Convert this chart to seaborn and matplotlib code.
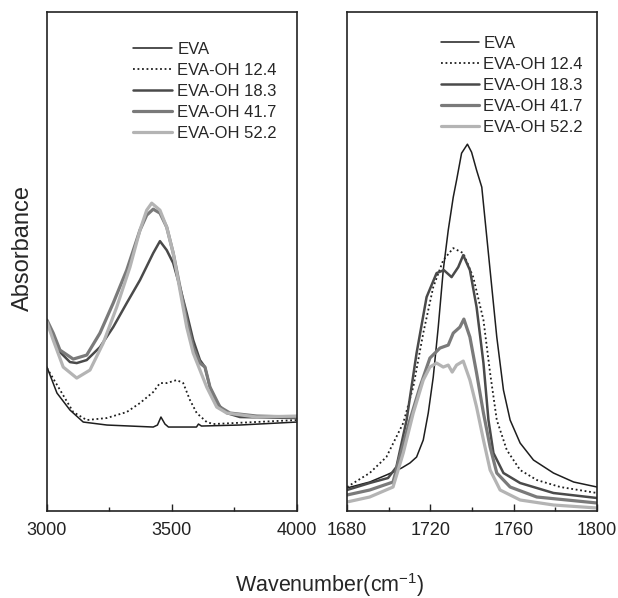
import numpy as np
import pandas as pd
import matplotlib
matplotlib.use("Agg")
import matplotlib.pyplot as plt
from matplotlib.ticker import MultipleLocator, NullLocator
import seaborn as sns

# --- data (arbitrary absorbance units) ---
labels = ["EVA", "EVA-OH 12.4", "EVA-OH 18.3", "EVA-OH 41.7", "EVA-OH 52.2"]

# O-H stretching region (3000-4000 cm-1)
oh_eva_x = [3000, 3040, 3092, 3145, 3240, 3425, 3442, 3456, 3472, 3486, 3598, 3606, 3618, 3770, 4000]
oh_eva_y = [1.44, 1.18, 1.01, 0.89, 0.86, 0.84, 0.86, 0.94, 0.87, 0.84, 0.84, 0.87, 0.85, 0.86, 0.89]

oh_124_x = [3000, 3105, 3159, 3239, 3319, 3372, 3425, 3452, 3479, 3519, 3545, 3572, 3599, 3639, 3665, 4000]
oh_124_y = [1.43, 0.99, 0.91, 0.93, 0.99, 1.08, 1.19, 1.28, 1.28, 1.31, 1.28, 1.11, 0.98, 0.89, 0.87, 0.91]

oh_183_x = [3000, 3025, 3052, 3092, 3119, 3159, 3212, 3265, 3319, 3372, 3425, 3452, 3479, 3505,
            3532, 3559, 3585, 3612, 3632, 3652, 3679, 3719, 3772, 4000]
oh_183_y = [1.88, 1.74, 1.59, 1.49, 1.48, 1.51, 1.64, 1.84, 2.08, 2.31, 2.58, 2.70, 2.61, 2.48,
            2.24, 1.98, 1.71, 1.51, 1.44, 1.24, 1.08, 0.98, 0.94, 0.93]

oh_417_x = [3000, 3025, 3052, 3105, 3159, 3212, 3265, 3319, 3372, 3399, 3425, 3452, 3479, 3505,
            3532, 3559, 3585, 3612, 3632, 3652, 3692, 3732, 3839, 4000]
oh_417_y = [1.91, 1.78, 1.61, 1.52, 1.56, 1.78, 2.08, 2.41, 2.81, 2.96, 3.02, 2.98, 2.84, 2.58,
            2.24, 1.91, 1.64, 1.48, 1.44, 1.24, 1.04, 0.98, 0.95, 0.94]

oh_522_x = [3000, 3025, 3065, 3119, 3172, 3225, 3279, 3332, 3372, 3399, 3419, 3452, 3479, 3505,
            3532, 3559, 3585, 3612, 3639, 3679, 3719, 3839, 4000]
oh_522_y = [1.89, 1.71, 1.44, 1.33, 1.41, 1.68, 2.04, 2.44, 2.81, 3.01, 3.08, 3.01, 2.84, 2.58,
            2.21, 1.84, 1.58, 1.41, 1.24, 1.04, 0.98, 0.94, 0.95]

# C=O stretching region (1680-1800 cm-1)
co_eva_x = [1680.0, 1690.9, 1698.9, 1702.1, 1706.2, 1710.2, 1713.4, 1716.6, 1719.0, 1721.4, 1723.8,
            1726.2, 1728.6, 1731.0, 1732.6, 1735.0, 1737.8, 1739.8, 1742.2, 1744.7, 1747.1, 1749.5,
            1751.9, 1755.1, 1758.3, 1763.1, 1769.5, 1779.1, 1788.8, 1800.0]
co_eva_y = [0.23, 0.29, 0.36, 0.39, 0.43, 0.48, 0.54, 0.71, 0.98, 1.34, 1.84,
            2.41, 2.81, 3.14, 3.31, 3.58, 3.67, 3.59, 3.41, 3.24, 2.74, 2.24,
            1.74, 1.21, 0.91, 0.68, 0.51, 0.38, 0.29, 0.24]

co_124_x = [1680.0, 1690.9, 1698.9, 1707.0, 1711.8, 1716.6, 1721.4, 1726.2, 1731.0, 1735.8, 1740.6,
            1745.5, 1748.7, 1751.9, 1756.7, 1763.1, 1771.1, 1782.4, 1800.0]
co_124_y = [0.24, 0.38, 0.54, 0.88, 1.24, 1.78, 2.24, 2.51, 2.63, 2.58, 2.34,
            1.91, 1.38, 0.91, 0.61, 0.41, 0.31, 0.24, 0.18]

co_183_x = [1680.0, 1690.9, 1699.7, 1703.7, 1708.6, 1713.4, 1718.2, 1723.0, 1726.5, 1730.2, 1733.4,
            1735.8, 1739.0, 1742.2, 1745.5, 1747.9, 1750.3, 1755.1, 1763.1, 1779.1, 1800.0]
co_183_y = [0.21, 0.28, 0.33, 0.44, 0.91, 1.58, 2.14, 2.38, 2.41, 2.34, 2.44,
            2.56, 2.41, 2.04, 1.48, 0.91, 0.58, 0.38, 0.28, 0.18, 0.13]

co_417_x = [1680.0, 1690.9, 1702.1, 1705.3, 1710.2, 1715.0, 1719.8, 1724.6, 1728.6, 1731.0, 1734.2,
            1736.1, 1739.0, 1742.2, 1745.5, 1748.7, 1751.9, 1758.3, 1771.1, 1800.0]
co_417_y = [0.16, 0.21, 0.29, 0.54, 0.91, 1.24, 1.53, 1.63, 1.66, 1.78, 1.84,
            1.92, 1.74, 1.38, 0.98, 0.64, 0.38, 0.24, 0.14, 0.08]

co_522_x = [1680.0, 1690.9, 1702.1, 1707.0, 1711.8, 1716.6, 1719.8, 1723.0, 1726.2, 1728.6, 1730.5,
            1732.6, 1735.8, 1739.0, 1742.2, 1745.5, 1748.7, 1753.5, 1763.1, 1779.1, 1800.0]
co_522_y = [0.09, 0.14, 0.24, 0.58, 0.98, 1.31, 1.44, 1.48, 1.44, 1.46, 1.39,
            1.46, 1.50, 1.31, 1.04, 0.71, 0.41, 0.21, 0.11, 0.06, 0.03]

oh_series = [(oh_eva_x, oh_eva_y), (oh_124_x, oh_124_y), (oh_183_x, oh_183_y),
             (oh_417_x, oh_417_y), (oh_522_x, oh_522_y)]
co_series = [(co_eva_x, co_eva_y), (co_124_x, co_124_y), (co_183_x, co_183_y),
             (co_417_x, co_417_y), (co_522_x, co_522_y)]

# line styles (grayscale scan look)
colors = ["#1e1e1e", "#1e1e1e", "#4a4a4a", "#7a7a7a", "#b4b4b4"]
styles = ["-", (0, (1, 1.5)), "-", "-", "-"]
widths = [1.1, 1.3, 1.8, 2.3, 2.3]

sns.set_style("ticks")
plt.rcParams["font.family"] = ["Liberation Sans", "DejaVu Sans"]
plt.rcParams["mathtext.default"] = "regular"

fig = plt.figure(figsize=(6.18, 5.98), dpi=100)
ax1 = fig.add_axes([0.076, 0.1455, 0.4045, 0.834])
ax2 = fig.add_axes([0.5615, 0.1455, 0.4045, 0.834])


def draw(ax, series):
    for (x, y), lab, c, ls, lw in zip(series, labels, colors, styles, widths):
        df = pd.DataFrame({"wavenumber": x, "absorbance": y})
        sns.lineplot(data=df, x="wavenumber", y="absorbance", ax=ax, color=c,
                     linestyle=ls, linewidth=lw, label=lab, legend=False)
    ax.set_ylim(0, 4.99)
    ax.yaxis.set_major_locator(NullLocator())
    ax.set_xlabel("")
    ax.set_ylabel("")
    for s in ax.spines.values():
        s.set_linewidth(1.2)
        s.set_color("#222222")
    ax.tick_params(axis="x", which="both", direction="in", top=False,
                   labelsize=13, colors="#222222", pad=8)
    ax.tick_params(axis="x", which="major", length=5, width=1)
    ax.tick_params(axis="x", which="minor", length=3, width=1)


draw(ax1, oh_series)
ax1.set_xlim(3000, 4000)
ax1.xaxis.set_major_locator(MultipleLocator(500))
ax1.xaxis.set_minor_locator(MultipleLocator(250))

draw(ax2, co_series)
ax2.set_xlim(1680, 1800)
ax2.xaxis.set_major_locator(MultipleLocator(40))
ax2.xaxis.set_minor_locator(MultipleLocator(20))

ax1.legend(loc="upper left", bbox_to_anchor=(0.345, 0.94), frameon=False, fontsize=12,
           handlelength=2.3, handletextpad=0.35, labelspacing=0.36, borderpad=0, borderaxespad=0)
ax2.legend(loc="upper left", bbox_to_anchor=(0.375, 0.952), frameon=False, fontsize=12,
           handlelength=2.3, handletextpad=0.25, labelspacing=0.36, borderpad=0, borderaxespad=0)

fig.text(0.037, 1 - 248 / 598, "Absorbance", fontsize=17, rotation=90, ha="center", va="center")
fig.text(0.533, 0.022, "Wavenumber(cm$^{-1}$)", fontsize=15.5, ha="center", va="center")

fig.savefig("out.png", dpi=100)
